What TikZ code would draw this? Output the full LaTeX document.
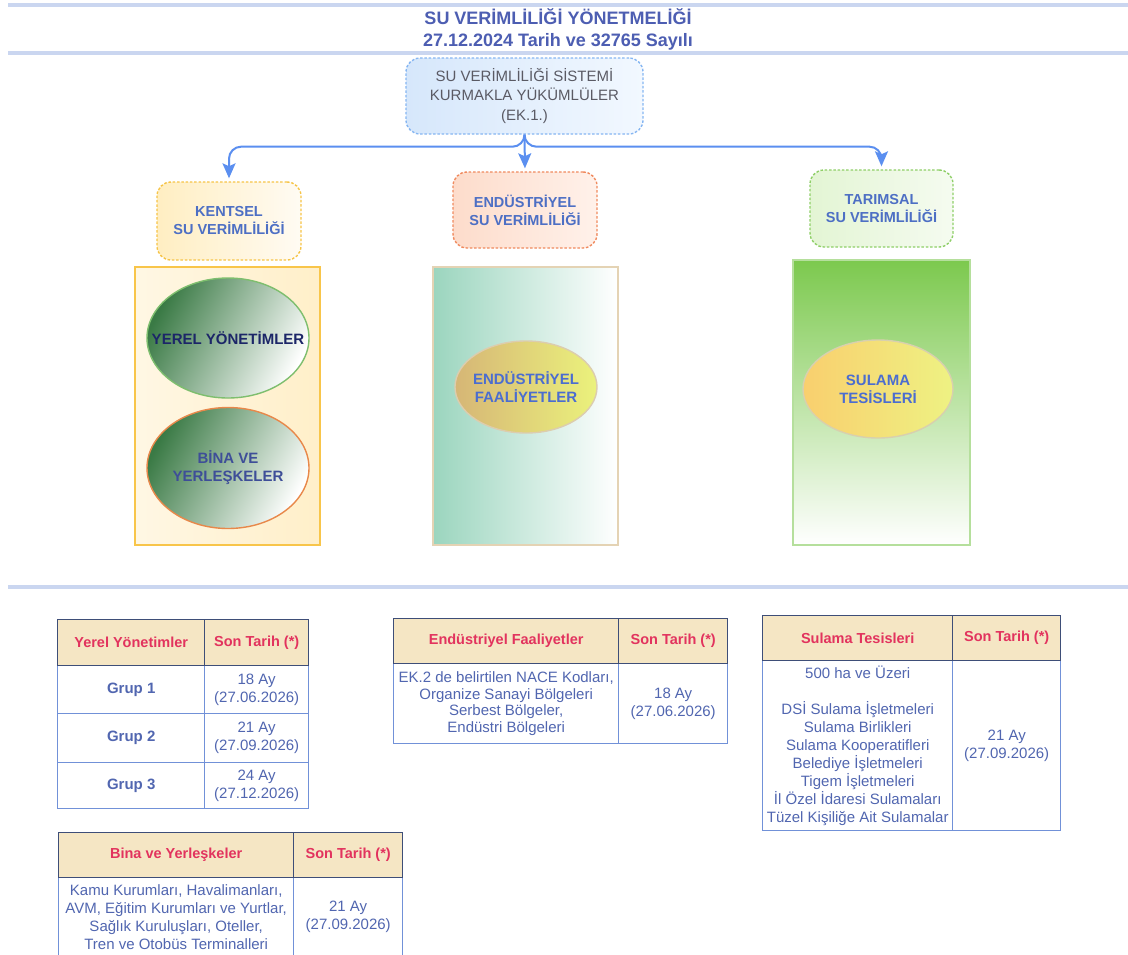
\documentclass[tikz,border=0pt]{standalone}
\usepackage{fontspec}
\setmainfont{Liberation Sans}
\usetikzlibrary{shapes.geometric,arrows.meta}

\definecolor{rulecol}{HTML}{CAD6F0}
\definecolor{titleblue}{HTML}{4D5EB2}
\definecolor{connblue}{HTML}{5B8FF0}
\definecolor{catblue}{HTML}{4D6FC4}
\definecolor{topgray}{HTML}{5A5A64}
\definecolor{topline}{HTML}{86B6F2}
\definecolor{topfillA}{HTML}{D6E7FB}
\definecolor{topfillB}{HTML}{F2F8FF}
\definecolor{kentline}{HTML}{F6C447}
\definecolor{kentfillA}{HTML}{FFEEC2}
\definecolor{kentfillB}{HTML}{FFFBF3}
\definecolor{enduline}{HTML}{F08A5E}
\definecolor{endufillA}{HTML}{FDDCCB}
\definecolor{endufillB}{HTML}{FFF1EA}
\definecolor{tarimline}{HTML}{8FCF68}
\definecolor{tarimfillA}{HTML}{E3F5D4}
\definecolor{tarimfillB}{HTML}{F5FBF0}
\definecolor{kpanelline}{HTML}{F8C54A}
\definecolor{kpanelA}{HTML}{FFF7E4}
\definecolor{kpanelB}{HTML}{FFEFC9}
\definecolor{epanelline}{HTML}{E4D3B4}
\definecolor{epanelA}{HTML}{9BD5BE}
\definecolor{tpanelline}{HTML}{B5DF9C}
\definecolor{tpanelA}{HTML}{7CC94E}
\definecolor{yerelfill}{HTML}{3A7A45}
\definecolor{yerelline}{HTML}{7EBE6E}
\definecolor{yereltext}{HTML}{1C2668}
\definecolor{binaline}{HTML}{E8884A}
\definecolor{binatext}{HTML}{3E4E98}
\definecolor{faalA}{HTML}{D6B676}
\definecolor{faalB}{HTML}{EBF27C}
\definecolor{faalline}{HTML}{DCCDAE}
\definecolor{sulA}{HTML}{F9CF6E}
\definecolor{sulB}{HTML}{EEF283}
\definecolor{sulline}{HTML}{D8D0AE}
\definecolor{blobblue}{HTML}{4B6DD0}
\definecolor{hdrfill}{HTML}{F5E6C4}
\definecolor{hdrline}{HTML}{3E4E78}
\definecolor{hdrtext}{HTML}{E2335E}
\definecolor{bodyline}{HTML}{7191D8}
\definecolor{bodytext}{HTML}{5166B0}

\newcommand\fTitle{\fontsize{18}{22}\selectfont\bfseries}
\newcommand\fTop{\fontsize{15}{19.5}\selectfont}
\newcommand\fCat{\fontsize{14.5}{18}\selectfont\bfseries}
\newcommand\fBlob{\fontsize{15}{18}\selectfont\bfseries}
\newcommand\fHdr{\fontsize{14.5}{18}\selectfont\bfseries}
\newcommand\fBody{\fontsize{15}{18}\selectfont}
\newcommand\fBodyTight{\fontsize{15}{16.5}\selectfont}

\tikzset{
  rulebar/.style={line width=4pt, draw=rulecol},
  conn/.style={draw=connblue, line width=2pt,
    -{Stealth[length=15pt,width=13pt,inset=3pt]}, shorten >=3pt},
  dashbox/.style={rectangle, rounded corners=14pt, line width=1.4pt,
    dash pattern=on 2.5pt off 1.8pt, align=center, inner sep=0pt},
  cattext/.style={font=\fCat, text=catblue},
  panel/.style={rectangle, line width=1.6pt, inner sep=0pt},
  blob/.style={ellipse, line width=1.4pt, inner sep=0pt},
  blobtext/.style={align=center, font=\fBlob, inner sep=0pt},
  cell/.style={rectangle, anchor=north west, inner sep=0pt, align=center,
    line width=1.4pt},
  hcell/.style={cell, draw=hdrline, fill=hdrfill, font=\fHdr, text=hdrtext},
  bcell/.style={cell, draw=bodyline, fill=white, font=\fBody, text=bodytext},
}

\begin{document}
\begin{tikzpicture}[x=1pt,y=-1pt]
\clip (0,0) rectangle (1128,954);
\fill[white] (0,0) rectangle (1128,954);

% separator bars
\draw[rulebar] (8,5) -- (1128,5);
\draw[rulebar] (8,53) -- (1128,53);
\draw[rulebar] (8,587) -- (1128,587);

% heading
\node[font=\fTitle, text=titleblue, align=center] (title) at (558,29)
  {SU VERİMLİLİĞİ YÖNETMELİĞİ\\27.12.2024 Tarih ve 32765 Sayılı};

% obliged parties box
\node[dashbox, draw=topline, left color=topfillA, right color=topfillB,
      minimum width=237, minimum height=76, font=\fTop, text=topgray]
  (ek1) at (524.5,96) {SU VERİMLİLİĞİ SİSTEMİ\\KURMAKLA YÜKÜMLÜLER\\(EK.1.)};

% three sectors
\node[dashbox, cattext, draw=kentline, left color=kentfillA, right color=kentfillB,
      minimum width=144, minimum height=78] (kent) at (229,221)
  {KENTSEL\\SU VERİMLİLİĞİ};
\node[dashbox, cattext, draw=enduline, left color=endufillA, right color=endufillB,
      minimum width=144, minimum height=76] (endu) at (525,210)
  {ENDÜSTRİYEL\\SU VERİMLİLİĞİ};
\node[dashbox, cattext, draw=tarimline, left color=tarimfillA, right color=tarimfillB,
      minimum width=143, minimum height=77] (tarim) at (881.5,208.5)
  {TARIMSAL\\SU VERİMLİLİĞİ};

% connectors
\draw[conn, rounded corners=12pt] (ek1.south) -- ++(0,12) -| (kent.north);
\draw[conn] (ek1.south) -- (endu.north);
\draw[conn, rounded corners=12pt] (ek1.south) -- ++(0,12) -| (tarim.north);

% sector panels
\node[panel, draw=kpanelline, left color=kpanelA, right color=kpanelB,
      minimum width=185, minimum height=278] (kentp) at (227.5,406) {};
\node[panel, draw=epanelline, left color=epanelA, right color=white,
      minimum width=185, minimum height=278] (endup) at (525.5,406) {};
\node[panel, draw=tpanelline, top color=tpanelA, bottom color=white,
      minimum width=177, minimum height=285] (tarimp) at (881.5,402.5) {};

% panel ellipses
\node[blob, draw=yerelline, top color=yerelfill, bottom color=white, shading angle=62,
      minimum width=162, minimum height=120] (yerel) at (228,338) {};
\node[blobtext, text=yereltext] (yerelt) at (yerel.center) {YEREL YÖNETİMLER};

\node[blob, draw=binaline, top color=yerelfill, bottom color=white, shading angle=62,
      minimum width=162, minimum height=121] (bina) at (228,468) {};
\node[blobtext, text=binatext] (binat) at (bina.center) {BİNA VE\\YERLEŞKELER};

\node[blob, draw=faalline, left color=faalA, right color=faalB,
      minimum width=142, minimum height=92] (faal) at (526,387) {};
\node[blobtext, text=blobblue] (faalt) at (faal.center) {ENDÜSTRİYEL\\FAALİYETLER};

\node[blob, draw=sulline, left color=sulA, right color=sulB,
      minimum width=150, minimum height=98] (sul) at (878,389) {};
\node[blobtext, text=blobblue] (sult) at (sul.center) {SULAMA\\TESİSLERİ};

% table: local administrations
\node[bcell, minimum width=147, minimum height=48, font=\fBody\bfseries] (y1a) at (57,665) {Grup 1};
\node[bcell, minimum width=104, minimum height=48] (y1b) at (204,665) {18 Ay\\(27.06.2026)};
\node[bcell, minimum width=147, minimum height=49, font=\fBody\bfseries] (y2a) at (57,713) {Grup 2};
\node[bcell, minimum width=104, minimum height=49] (y2b) at (204,713) {21 Ay\\(27.09.2026)};
\node[bcell, minimum width=147, minimum height=46, font=\fBody\bfseries] (y3a) at (57,762) {Grup 3};
\node[bcell, minimum width=104, minimum height=46] (y3b) at (204,762) {24 Ay\\(27.12.2026)};
\node[hcell, minimum width=147, minimum height=46] (yha) at (57,619) {Yerel Yönetimler};
\node[hcell, minimum width=104, minimum height=46] (yhb) at (204,619) {Son Tarih (*)};

% table: industrial activities
\node[bcell, minimum width=225, minimum height=80, font=\fBodyTight] (e1a) at (393,663)
  {EK.2 de belirtilen NACE Kodları,\\Organize Sanayi Bölgeleri\\Serbest Bölgeler,\\Endüstri Bölgeleri};
\node[bcell, minimum width=109, minimum height=80] (e1b) at (618,663) {18 Ay\\(27.06.2026)};
\node[hcell, minimum width=225, minimum height=45] (eha) at (393,618) {Endüstriyel Faaliyetler};
\node[hcell, minimum width=109, minimum height=45] (ehb) at (618,618) {Son Tarih (*)};

% table: irrigation facilities
\node[bcell, minimum width=190, minimum height=170] (s1a) at (762,660)
  {500 ha ve Üzeri\\[18pt]DSİ Sulama İşletmeleri\\Sulama Birlikleri\\Sulama Kooperatifleri\\Belediye İşletmeleri\\Tigem İşletmeleri\\İl Özel İdaresi Sulamaları\\Tüzel Kişiliğe Ait Sulamalar};
\node[bcell, minimum width=108, minimum height=170] (s1b) at (952,660) {21 Ay\\(27.09.2026)};
\node[hcell, minimum width=190, minimum height=45] (sha) at (762,615) {Sulama Tesisleri};
\node[hcell, minimum width=108, minimum height=45] (shb) at (952,615) {Son Tarih (*)};

% table: buildings and campuses
\node[bcell, minimum width=235, minimum height=79] (b1a) at (58,877)
  {Kamu Kurumları, Havalimanları,\\AVM, Eğitim Kurumları ve Yurtlar,\\Sağlık Kuruluşları, Oteller,\\Tren ve Otobüs Terminalleri};
\node[bcell, minimum width=109, minimum height=79] (b1b) at (293,877) {21 Ay\\(27.09.2026)};
\node[hcell, minimum width=235, minimum height=45] (bha) at (58,832) {Bina ve Yerleşkeler};
\node[hcell, minimum width=109, minimum height=45] (bhb) at (293,832) {Son Tarih (*)};
\end{tikzpicture}
\end{document}
